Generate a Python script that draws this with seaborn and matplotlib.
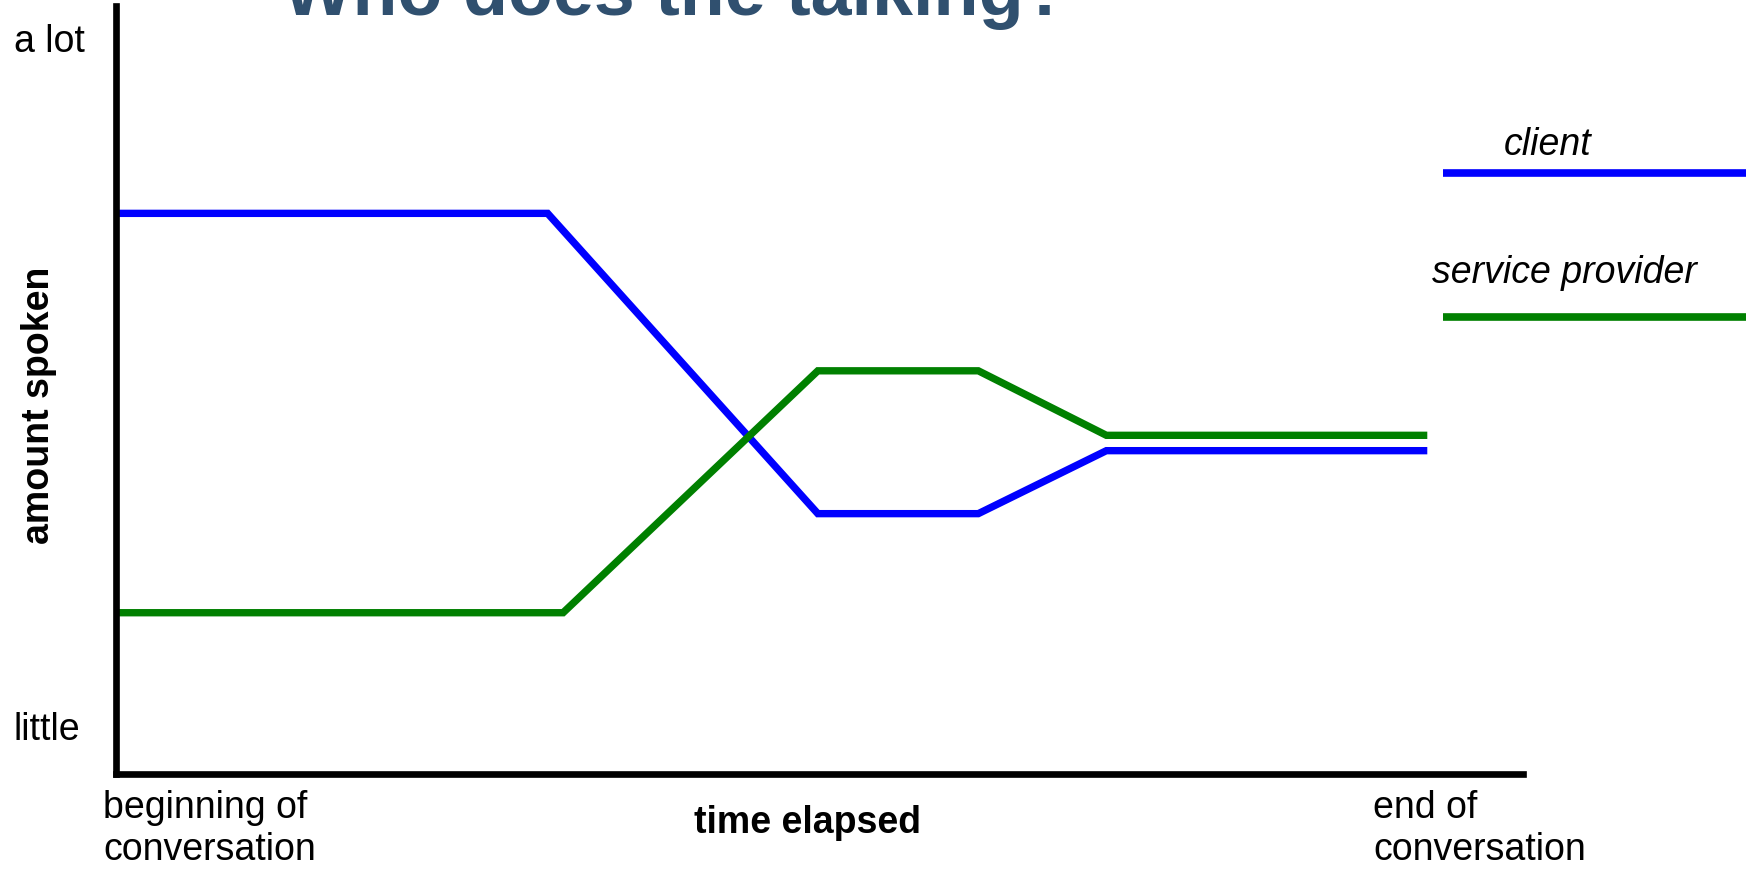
import matplotlib
matplotlib.use("Agg")
import matplotlib.pyplot as plt
from matplotlib.lines import Line2D
import seaborn as sns
import pandas as pd

# ---- data (time elapsed 0-100, amount spoken 0-100) ----
client_time = [0, 30.7, 49.9, 61.3, 70.4, 93.2]
client_amount = [73.0, 73.0, 33.9, 33.9, 42.1, 42.1]
provider_time = [0, 31.8, 49.9, 61.3, 70.4, 93.2]
provider_amount = [21.0, 21.0, 52.5, 52.5, 44.1, 44.1]
series_names = ["client", "service provider"]
series_colors = ["#0000ff", "#008000"]
title_text = "Who does the talking?"
y_low_label = "little"
y_high_label = "a lot"
x_start_label = "beginning of\nconversation"
x_end_label = "end of\nconversation"

sns.set_theme(style="white")
plt.rcParams["font.family"] = ["Liberation Sans", "DejaVu Sans"]
plt.rcParams["text.color"] = "black"

W, H = 1746, 873
fig = plt.figure(figsize=(W / 100, H / 100), dpi=100)
fig.patch.set_facecolor("white")

left_px, right_px, top_px, bottom_px = 115.5, 1523, 6, 774
ax = fig.add_axes([left_px / W, 1 - bottom_px / H,
                   (right_px - left_px) / W, (bottom_px - top_px) / H])

df = pd.DataFrame({
    "time": client_time + provider_time,
    "amount": client_amount + provider_amount,
    "who": [series_names[0]] * len(client_time) + [series_names[1]] * len(provider_time),
})
palette = dict(zip(series_names, series_colors))
sns.lineplot(data=df, x="time", y="amount", hue="who", palette=palette,
             linewidth=5.3, ax=ax, legend=False, sort=False,
             solid_capstyle="butt", solid_joinstyle="miter")

ax.set_xlim(0, 100)
ax.set_ylim(0, 100)
ax.set_xticks([])
ax.set_yticks([])
ax.set_xlabel("")
ax.set_ylabel("")
for side in ["top", "right"]:
    ax.spines[side].set_visible(False)
for side in ["left", "bottom"]:
    ax.spines[side].set_visible(True)
    ax.spines[side].set_color("black")
    ax.spines[side].set_linewidth(4.8)
    ax.spines[side].set_capstyle("projecting")
ax.set_facecolor("white")

def fx(px):
    return px / W

def fy(py):
    return 1 - py / H

fs = 27
# title (clipped at the top, as in the reference)
fig.text(fx(676), fy(15), title_text, ha="center", va="baseline",
         fontsize=53, fontweight="bold", color="#30506f")

# y end labels
fig.text(fx(14), fy(52), y_high_label, ha="left", va="baseline", fontsize=fs, color="black")
fig.text(fx(14), fy(740), y_low_label, ha="left", va="baseline", fontsize=fs, color="black")

# x end labels
fig.text(fx(103), fy(818), x_start_label.split("\n")[0], ha="left", va="baseline", fontsize=fs, color="black")
fig.text(fx(103), fy(860), x_start_label.split("\n")[1], ha="left", va="baseline", fontsize=fs, color="black")
fig.text(fx(1373), fy(818), x_end_label.split("\n")[0], ha="left", va="baseline", fontsize=fs, color="black")
fig.text(fx(1373), fy(860), x_end_label.split("\n")[1], ha="left", va="baseline", fontsize=fs, color="black")

# axis titles
fig.text(fx(807), fy(833), "time elapsed", ha="center", va="baseline",
         fontsize=fs, fontweight="bold", color="black")
fig.text(fx(39), fy(405), "amount spoken", ha="center", va="center",
         rotation=90, fontsize=fs, fontweight="bold", color="black")

# custom legend
fig.text(fx(1548), fy(155), series_names[0], ha="center", va="baseline",
         fontsize=fs, style="italic", color="black")
fig.text(fx(1564), fy(283), series_names[1], ha="center", va="baseline",
         fontsize=fs, style="italic", color="black")
for yy, col in zip([173, 317], series_colors):
    fig.add_artist(Line2D([fx(1443), fx(1760)], [fy(yy), fy(yy)],
                          transform=fig.transFigure, color=col,
                          linewidth=5.5, solid_capstyle="butt"))

fig.savefig("out.png", dpi=100, facecolor="white")
